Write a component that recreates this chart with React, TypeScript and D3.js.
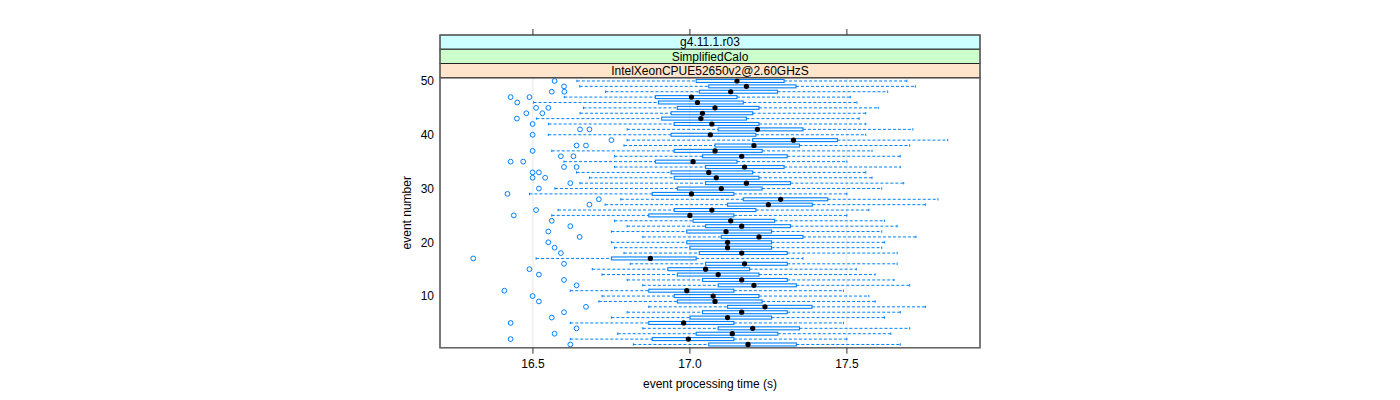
import * as d3 from "d3";

// event processing time (s) per event number
const events: number[] = [
  1, 2, 3, 4, 5, 6, 7, 8, 9, 10, 11, 12, 13, 14, 15, 16, 17, 18, 19, 20, 21, 22, 23, 24, 25,
  26, 27, 28, 29, 30, 31, 32, 33, 34, 35, 36, 37, 38, 39, 40, 41, 42, 43, 44, 45, 46, 47, 48, 49, 50,
];
const whiskerLow: number[] = [
  16.82, 16.619, 16.77, 16.85, 16.619, 16.75, 16.8, 16.869, 16.71, 16.72,
  16.619, 16.85, 16.8, 16.72, 16.689, 16.81, 16.51, 16.79, 16.76, 16.75,
  16.85, 16.75, 16.8, 16.76, 16.56, 16.58, 16.73, 16.78, 16.489, 16.57,
  16.65, 16.68, 16.639, 16.76, 16.599, 16.76, 16.56, 16.79, 16.8, 16.549,
  16.8, 16.55, 16.511, 16.65, 16.661, 16.502, 16.6, 16.731, 16.649, 16.64,
];
const q1: number[] = [
  17.06, 16.88, 17.02, 17.09, 16.869, 17.0, 17.04, 17.12, 16.96, 16.95,
  16.869, 17.09, 17.04, 16.96, 16.93, 17.05, 16.75, 17.03, 17.0, 16.99,
  17.1, 16.99, 17.05, 17.01, 16.869, 16.95, 17.12, 17.17, 16.88, 16.96,
  17.05, 16.95, 16.94, 17.05, 16.89, 17.04, 16.95, 17.08, 17.2, 16.94,
  17.09, 16.95, 16.91, 16.94, 16.96, 16.9, 16.89, 17.03, 17.06, 17.02,
];
const median: number[] = [
  17.185, 16.995, 17.135, 17.2, 16.98, 17.12, 17.165, 17.239, 17.08, 17.074,
  16.99, 17.204, 17.165, 17.09, 17.05, 17.174, 16.874, 17.165, 17.12, 17.12,
  17.22, 17.115, 17.165, 17.13, 17.0, 17.07, 17.25, 17.289, 17.005, 17.1,
  17.18, 17.084, 17.06, 17.174, 17.01, 17.165, 17.08, 17.204, 17.33, 17.065,
  17.215, 17.07, 17.035, 17.04, 17.08, 17.024, 17.005, 17.13, 17.18, 17.15,
];
const q3: number[] = [
  17.339, 17.14, 17.28, 17.349, 17.14, 17.26, 17.31, 17.389, 17.23, 17.22,
  17.14, 17.339, 17.31, 17.22, 17.19, 17.31, 17.02, 17.31, 17.26, 17.26,
  17.36, 17.26, 17.32, 17.27, 17.14, 17.21, 17.39, 17.439, 17.14, 17.23,
  17.32, 17.22, 17.2, 17.3, 17.15, 17.31, 17.23, 17.349, 17.47, 17.21,
  17.36, 17.22, 17.18, 17.2, 17.22, 17.17, 17.15, 17.279, 17.338, 17.3,
];
const whiskerHigh: number[] = [
  17.67, 17.5, 17.64, 17.7, 17.489, 17.62, 17.67, 17.75, 17.59, 17.57,
  17.489, 17.7, 17.65, 17.59, 17.53, 17.66, 17.36, 17.66, 17.611, 17.62,
  17.72, 17.611, 17.66, 17.62, 17.5, 17.57, 17.75, 17.79, 17.5, 17.611,
  17.681, 17.58, 17.56, 17.67, 17.5, 17.67, 17.58, 17.7, 17.821, 17.56,
  17.71, 17.56, 17.539, 17.56, 17.6, 17.532, 17.511, 17.63, 17.718, 17.691,
];
const outliers: number[][] = [
  [16.619], [16.429], [16.569], [16.639], [16.429], [16.56], [16.599], [16.669], [16.519], [16.499],
  [16.409], [16.639], [16.599], [16.519], [16.489], [16.599], [16.31], [16.589], [16.569], [16.549],
  [16.649], [16.549], [16.619], [16.56], [16.439], [16.51], [16.68], [16.71], [16.419], [16.519],
  [16.619], [16.499, 16.539], [16.499, 16.519], [16.599, 16.639], [16.429, 16.469],
  [16.589, 16.629], [16.499], [16.639, 16.669], [16.75], [16.499],
  [16.65, 16.68], [16.499], [16.449], [16.479, 16.53], [16.51, 16.549],
  [16.45], [16.429, 16.489], [16.56, 16.6], [16.599], [16.569],
];

const xTicks: number[] = [16.5, 17.0, 17.5];
const yTicks: number[] = [10, 20, 30, 40, 50];
const strips: string[] = ["g4.11.1.r03", "SimplifiedCalo", "IntelXeonCPUE52650v2@2.60GHzS"];
const stripColors: string[] = ["#ccffff", "#ccffcc", "#ffe5cc"];

const font = "'Liberation Sans', Arial, Helvetica, sans-serif";
const blue = "#0080ff";

export default function App() {
  const left = 440;
  const right = 980;
  const stripTop = 35;
  const stripH = 14.25;
  const top = stripTop + stripH * strips.length;
  const bottom = 347.7;

  const x = d3.scaleLinear().domain([16.204, 17.924]).range([left, right]);
  const y = d3.scaleLinear().domain([0.4, 50.6]).range([bottom, top]);
  const boxH = (y(0) - y(1)) * 0.55;
  const capH = 2.4;

  return (
    <svg
      width={1400}
      height={400}
      style={{ position: "absolute", left: 0, top: 0, display: "block", background: "#fff" }}
      fontFamily={font}
    >
      {/* reference lines */}
      {xTicks.map((t) => (
        <line key={"g" + t} x1={x(t)} x2={x(t)} y1={top} y2={bottom} stroke="#e6e6e6" strokeWidth={1} />
      ))}

      {/* boxes */}
      {events.map((e, i) => {
        const cy = y(e);
        return (
          <g key={e}>
            <line x1={x(whiskerLow[i])} x2={x(q1[i])} y1={cy} y2={cy} stroke={blue} strokeDasharray="3,2" strokeWidth={1} />
            <line x1={x(q3[i])} x2={x(whiskerHigh[i])} y1={cy} y2={cy} stroke={blue} strokeDasharray="3,2" strokeWidth={1} />
            <line x1={x(whiskerLow[i])} x2={x(whiskerLow[i])} y1={cy - capH / 2} y2={cy + capH / 2} stroke={blue} strokeWidth={1} />
            <line x1={x(whiskerHigh[i])} x2={x(whiskerHigh[i])} y1={cy - capH / 2} y2={cy + capH / 2} stroke={blue} strokeWidth={1} />
            <rect x={x(q1[i])} y={cy - boxH / 2} width={x(q3[i]) - x(q1[i])} height={boxH} fill="none" stroke={blue} strokeWidth={1.1} />
            <circle cx={x(median[i])} cy={cy} r={2.6} fill="#000" />
            {outliers[i].map((o, j) => (
              <circle key={j} cx={x(o)} cy={cy} r={2.4} fill="none" stroke={blue} strokeWidth={1} />
            ))}
          </g>
        );
      })}

      {/* panel border */}
      <rect x={left} y={top} width={right - left} height={bottom - top} fill="none" stroke="#666" strokeWidth={1.3} />

      {/* strips */}
      {strips.map((s, k) => {
        const sy = stripTop + k * stripH;
        return (
          <g key={s}>
            <rect x={left} y={sy} width={right - left} height={stripH} fill={stripColors[k]} stroke="#222" strokeWidth={1} />
            <text x={(left + right) / 2} y={sy + stripH / 2 + 4.3} textAnchor="middle" fontSize={12} fill="#000">
              {s}
            </text>
          </g>
        );
      })}
      <rect x={left} y={stripTop} width={right - left} height={bottom - stripTop} fill="none" stroke="#666" strokeWidth={1.3} />

      {/* x axis */}
      {xTicks.map((t) => (
        <g key={"x" + t}>
          <line x1={x(t)} x2={x(t)} y1={bottom} y2={bottom + 6} stroke="#333" strokeWidth={1} />
          <line x1={x(t)} x2={x(t)} y1={stripTop - 6} y2={stripTop} stroke="#333" strokeWidth={1} />
          <text x={x(t)} y={bottom + 20} textAnchor="middle" fontSize={12} fill="#000">
            {d3.format(".1f")(t)}
          </text>
        </g>
      ))}
      <text x={(left + right) / 2} y={388} textAnchor="middle" fontSize={12} fill="#000">
        event processing time (s)
      </text>

      {/* y axis */}
      {yTicks.map((t) => (
        <text key={"y" + t} x={left - 6} y={y(t) + 4.3} textAnchor="end" fontSize={12} fill="#000">
          {t}
        </text>
      ))}
      <text
        transform={`translate(${411},${(top + bottom) / 2}) rotate(-90)`}
        textAnchor="middle"
        fontSize={12}
        fill="#000"
      >
        event number
      </text>
    </svg>
  );
}
